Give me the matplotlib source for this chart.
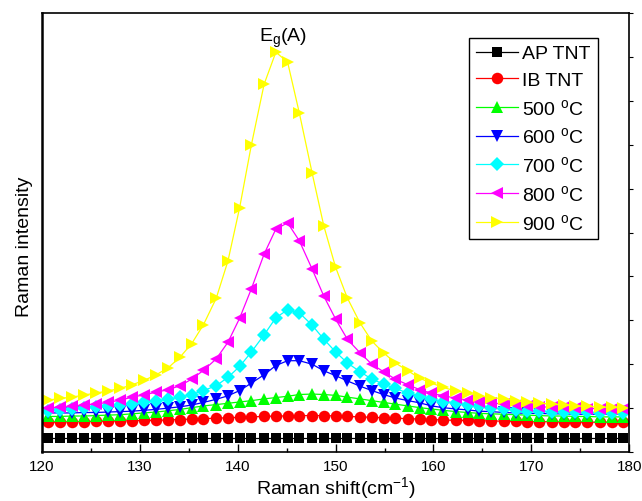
import matplotlib
matplotlib.use("Agg")
import matplotlib.pyplot as plt
from matplotlib.ticker import MultipleLocator

plt.rcParams['font.family'] = ['Liberation Sans', 'DejaVu Sans']
plt.rcParams['mathtext.fontset'] = 'custom'
plt.rcParams['mathtext.rm'] = 'Liberation Sans'
plt.rcParams['mathtext.it'] = 'Liberation Sans:italic'

# Raman shift (cm^-1)
raman_shift = [120.6, 121.8, 123.1, 124.3, 125.5, 126.7, 128.0, 129.2, 130.4, 131.6,
               132.9, 134.1, 135.3, 136.5, 137.8, 139.0, 140.2, 141.4, 142.7, 143.9,
               145.1, 146.3, 147.6, 148.8, 150.0, 151.2, 152.5, 153.7, 154.9, 156.1,
               157.4, 158.6, 159.8, 161.0, 162.3, 163.5, 164.7, 165.9, 167.2, 168.4,
               169.6, 170.8, 172.1, 173.3, 174.5, 175.7, 177.0, 178.2, 179.4]

ap_tnt = [33, 33, 33, 33, 33, 33, 33, 33, 33, 33, 33, 33, 33, 33, 33, 33, 33, 33, 33, 33,
          33, 33, 33, 33, 33, 33, 33, 33, 33, 33, 33, 33, 33, 33, 33, 33, 33, 33, 33, 33,
          33, 33, 33, 33, 33, 33, 33, 33, 33]
ib_tnt = [68, 68, 69, 69, 70, 70, 71, 71, 72, 72, 73, 74, 75, 76, 77, 78, 79, 80, 81, 82,
          82, 83, 83, 83, 82, 81, 80, 79, 78, 77, 76, 75, 74, 73, 72, 72, 71, 71, 70, 70,
          69, 69, 69, 68, 68, 68, 68, 68, 68]
t500 = [81, 81, 82, 82, 83, 84, 85, 87, 89, 91, 94, 97, 101, 105, 108, 111, 114, 117, 121, 124,
        127, 131, 132, 131, 129, 125, 121, 117, 113, 109, 105, 101, 98, 95, 92, 90, 88, 87, 86, 85,
        84, 83, 82, 82, 81, 81, 80, 80, 80]
t600 = [89, 89, 89, 90, 90, 91, 92, 93, 95, 97, 100, 103, 107, 113, 120, 128, 140, 157, 176, 197,
        208, 208, 200, 185, 174, 162, 150, 140, 131, 123, 117, 112, 105, 101, 98, 96, 93, 92, 90, 89,
        88, 88, 87, 87, 86, 86, 86, 86, 86]
t700 = [94, 96, 98, 100, 102, 104, 107, 110, 113, 116, 120, 125, 131, 140, 151, 170, 195, 228, 267, 306,
        324, 317, 289, 257, 228, 203, 183, 166, 155, 145, 134, 128, 121, 115, 112, 107, 104, 101, 98, 96,
        94, 93, 92, 91, 90, 90, 89, 88, 88]
t800 = [100, 102, 104, 107, 109, 113, 118, 125, 130, 136, 142, 151, 166, 186, 212, 250, 305, 372, 451, 508,
        522, 481, 417, 355, 303, 257, 226, 200, 183, 166, 153, 142, 134, 128, 123, 118, 115, 112, 109, 107,
        105, 103, 102, 102, 100, 99, 99, 98, 98]
t900 = [118, 122, 125, 130, 134, 139, 145, 153, 163, 175, 192, 216, 247, 290, 350, 435, 557, 700, 838, 911,
        888, 772, 636, 515, 421, 351, 294, 253, 226, 203, 185, 168, 157, 147, 139, 134, 128, 124, 121, 117,
        113, 111, 109, 107, 105, 104, 102, 102, 100]

deg = ' $^{\\mathrm{o}}$C'
series = [
    (ap_tnt, 'AP TNT', 'black', 's', 7.3),
    (ib_tnt, 'IB TNT', 'red', 'o', 8.3),
    (t500, '500' + deg, '#00ff00', '^', 9),
    (t600, '600' + deg, 'blue', 'v', 9),
    (t700, '700' + deg, 'cyan', 'D', 7.3),
    (t800, '800' + deg, 'magenta', '<', 9),
    (t900, '900' + deg, 'yellow', '>', 9),
]

fig = plt.figure(figsize=(6.42, 5.02), dpi=100)
ax = fig.add_axes([0.0654, 0.0976, 0.9146, 0.8744])

for vals, label, color, marker, ms in series:
    ax.plot(raman_shift, vals, color=color, lw=0.9, marker=marker, markersize=ms,
            markeredgewidth=0, label=label)

ax.set_xlim(120, 180)
ax.set_ylim(0, 1000)
ax.xaxis.set_major_locator(MultipleLocator(10))
ax.xaxis.set_minor_locator(MultipleLocator(5))
ax.yaxis.set_major_locator(MultipleLocator(100))
ax.tick_params(axis='x', which='major', direction='in', length=6, width=1, labelsize=11, pad=5)
ax.tick_params(axis='x', which='minor', direction='in', length=3, width=1)
ax.tick_params(axis='y', left=False, labelleft=False, right=True, direction='out', length=3, width=0.8)

for side in ['top', 'right', 'bottom']:
    ax.spines[side].set_linewidth(1.2)
ax.spines['left'].set_linewidth(1.8)

ax.set_xlabel('Raman shift(cm$^{-1}$)', fontsize=14)
ax.xaxis.set_label_coords(0.5, -0.05)
ax.set_ylabel('Raman intensity', fontsize=14)
ax.yaxis.set_label_coords(-0.016, 0.47)

ax.text(144.6, 936, 'E$_{\\mathrm{g}}$(A)', fontsize=14, ha='center', va='baseline')

leg = ax.legend(loc='upper left', bbox_to_anchor=(0.727, 0.943), borderaxespad=0,
                fontsize=14, fancybox=False, framealpha=1, edgecolor='black',
                handlelength=2.2, handletextpad=0.2, labelspacing=0.45, borderpad=0.35)
leg.get_frame().set_linewidth(1.0)

fig.savefig('out.png', dpi=100)
